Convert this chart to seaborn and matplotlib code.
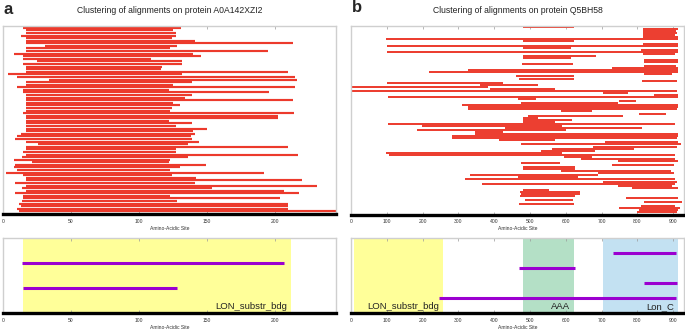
import numpy as np
import pandas as pd
import matplotlib
matplotlib.use("Agg")
import matplotlib.pyplot as plt
import seaborn as sns

sns.set_theme(style="white")
plt.rcParams['font.family'] = ['Liberation Sans', 'DejaVu Sans']

# ---- panel a data (protein A0A142XZI2) ----
a_length = 245
a_start = [15, 17, 17, 13, 17, 17, 17, 31, 17, 17, 8, 15, 15, 25, 15, 17, 17, 17,
           4, 10, 34, 17, 17, 10, 15, 15, 17, 17, 17, 17, 17, 17, 17, 15, 17, 17,
           17, 17, 17, 17, 17, 13, 10, 9, 17, 26, 17, 17, 15, 17, 14, 8, 21, 9,
           8, 10, 2, 15, 17, 17, 9, 17, 14, 17, 9, 15, 15, 14, 12, 13, 10, 12]
a_end = [131, 125, 127, 127, 124, 141, 213, 128, 123, 195, 140, 146, 109, 132, 132, 117, 116, 210,
         132, 215, 216, 139, 125, 215, 122, 196, 139, 134, 213, 125, 130, 124, 123, 214, 202, 202,
         122, 139, 127, 150, 140, 141, 138, 139, 144, 136, 210, 127, 127, 217, 136, 123, 122, 149,
         130, 123, 192, 124, 142, 220, 141, 231, 154, 207, 218, 123, 204, 128, 210, 210, 210, 245]

a_dom_name = ['LON_substr_bdg']
a_dom_start = [15]
a_dom_end = [212]
a_hit_start = [14, 15]
a_hit_end = [207, 128]

# ---- panel b data (protein Q5BH58) ----
b_length = 930
b_row = list(range(91))
b_start = [481, 815, 815, 815, 815, 815, 98, 480, 815, 100, 480, 810, 100, 815, 480, 480,
           817, 817, 478, 817, 728, 327, 218, 817, 460, 470, 812, 101, 361, 4, 389, 4,
           705, 847, 103, 465, 749, 476, 309, 326, 328, 586, 803, 493, 480, 480, 480, 102,
           199, 430, 184, 346, 346, 283, 283, 412, 710, 474, 675, 562, 531, 97, 107, 596,
           641, 747, 474, 728, 480, 480, 587, 689, 333, 465, 318, 705, 365, 745, 784, 480,
           472, 476, 472, 767, 486, 817, 469, 809, 749, 803, 798]
b_end = [622, 912, 908, 910, 905, 912, 914, 622, 914, 914, 614, 914, 914, 905, 683, 614,
         912, 912, 620, 908, 912, 912, 912, 896, 622, 622, 910, 424, 523, 382, 570, 910,
         773, 914, 914, 516, 795, 745, 914, 914, 910, 672, 879, 761, 521, 616, 570, 905,
         588, 812, 600, 424, 914, 914, 910, 570, 914, 922, 910, 789, 681, 588, 905, 672,
         905, 912, 584, 903, 626, 626, 894, 903, 691, 635, 905, 910, 905, 896, 912, 553,
         640, 640, 626, 912, 619, 924, 624, 905, 919, 914, 910]

b_dom_name = ['LON_substr_bdg', 'AAA', 'Lon_C']
b_dom_start = [8, 481, 704]
b_dom_end = [257, 623, 914]
b_hit_start = [733, 470, 818, 247]
b_hit_end = [908, 625, 910, 908]

dom_colors = {'LON_substr_bdg': '#ffff99', 'AAA': '#b4e0c6', 'Lon_C': '#c3e1f2'}
RED = '#ec3a2c'
PURPLE = '#9b00d0'


def segments_df(starts, ends, rows):
    recs = []
    for i, (s, e, r) in enumerate(zip(starts, ends, rows)):
        recs.append({'seg': i, 'x': s, 'y': r})
        recs.append({'seg': i, 'x': e, 'y': r})
    return pd.DataFrame(recs)


def style_axis(ax, length, step):
    ax.set_xlim(0, length)
    ax.set_xticks(np.arange(0, length + 1, step))
    ax.set_yticks([])
    ax.set_ylabel('')
    ax.set_xlabel('Amino-Acidic Site', fontsize=3.6, labelpad=1.5, color='#333333')
    ax.tick_params(axis='x', direction='in', top=True, bottom=True, length=2.5,
                   width=0.5, color='#999999', labelsize=3.6, pad=3.5, labelcolor='#333333')
    for side in ['top', 'left', 'right']:
        ax.spines[side].set_color('#cfcfcf')
        ax.spines[side].set_linewidth(1.0)
    ax.spines['bottom'].set_color('black')
    ax.spines['bottom'].set_linewidth(2.4)
    ax.grid(False)


def draw_clusters(ax, starts, ends, rows, length, step, lw, top_pad):
    df = segments_df(starts, ends, rows)
    sns.lineplot(data=df, x='x', y='y', units='seg', estimator=None, sort=False,
                 color=RED, linewidth=lw, ax=ax, legend=False, solid_capstyle='butt')
    style_axis(ax, length, step)
    ax.set_ylim(max(rows) + 1.0, -top_pad)


def draw_domains(ax, names, dstart, dend, hstart, hend, length, step):
    for n, s, e in zip(names, dstart, dend):
        ax.axvspan(s, e, color=dom_colors[n], lw=0, zorder=0)
        ax.annotate(n, xy=(e, 0.03), xycoords=('data', 'axes fraction'),
                    xytext=(-3, 0), textcoords='offset points',
                    ha='right', va='bottom', fontsize=6.8, color='#222222')
    nh = len(hstart)
    rows = list(range(nh, 0, -1))
    df = segments_df(hstart, hend, rows)
    sns.lineplot(data=df, x='x', y='y', units='seg', estimator=None, sort=False,
                 color=PURPLE, linewidth=2.2, ax=ax, legend=False, solid_capstyle='butt')
    style_axis(ax, length, step)
    ax.set_ylim(0, nh + 1)


fig = plt.figure(figsize=(6.85, 3.29), dpi=100)
W, H = 685.0, 329.0

ax_a = fig.add_axes([3 / W, 1 - 214 / H, 333 / W, 188 / H])
ax_ad = fig.add_axes([3 / W, 1 - 313 / H, 333 / W, 75 / H])
ax_b = fig.add_axes([351 / W, 1 - 214.5 / H, 333 / W, 188.5 / H])
ax_bd = fig.add_axes([351 / W, 1 - 313 / H, 333 / W, 75 / H])

draw_clusters(ax_a, a_start, a_end, list(range(len(a_start))), a_length, 50, 1.55, 0.7)
draw_clusters(ax_b, b_start, b_end, b_row, b_length, 100, 1.4, 0.5)
draw_domains(ax_ad, a_dom_name, a_dom_start, a_dom_end, a_hit_start, a_hit_end, a_length, 50)
draw_domains(ax_bd, b_dom_name, b_dom_start, b_dom_end, b_hit_start, b_hit_end, b_length, 100)

fig.text(169.5 / W, 1 - 10.5 / H, 'Clustering of alignments on protein A0A142XZI2',
         ha='center', va='center', fontsize=6.2, color='#222222')
fig.text(517.5 / W, 1 - 10.5 / H, 'Clustering of alignments on protein Q5BH58',
         ha='center', va='center', fontsize=6.2, color='#222222')
fig.text(4 / W, 1 - 9 / H, 'a', ha='left', va='center', fontsize=12, fontweight='bold')
fig.text(352 / W, 1 - 8 / H, 'b', ha='left', va='center', fontsize=12, fontweight='bold')

fig.savefig('out.png', dpi=100)
